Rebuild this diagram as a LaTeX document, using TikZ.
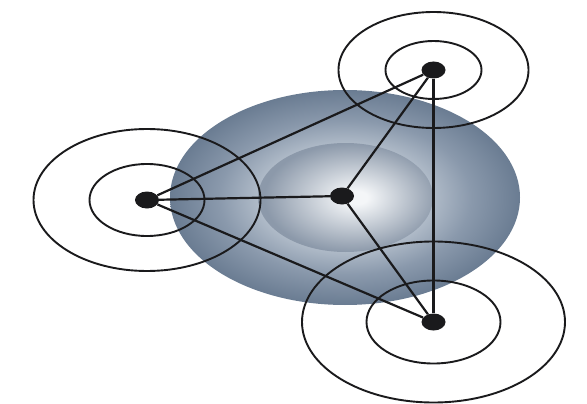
\documentclass[tikz,border=0pt]{standalone}
\usetikzlibrary{shapes.geometric}
\definecolor{bowledge}{RGB}{106,124,146}
\definecolor{bowlmid}{RGB}{138,153,172}
\definecolor{bowlrim}{RGB}{178,189,202}
\definecolor{cupedge}{RGB}{140,153,170}
\definecolor{cuphi}{RGB}{244,246,248}
\definecolor{inkdark}{RGB}{26,26,28}
\pgfdeclareradialshading{bowlshade}{\pgfpoint{0bp}{0bp}}{color(0bp)=(bowlrim); color(12bp)=(bowlrim); color(18bp)=(bowlmid); color(25bp)=(bowledge); color(50bp)=(bowledge)}
\pgfdeclareradialshading{cupshade}{\pgfpoint{3.5bp}{0bp}}{color(0bp)=(cuphi); color(3bp)=(cuphi); color(25bp)=(cupedge); color(50bp)=(cupedge)}

\begin{document}
\begin{tikzpicture}[x=1pt,y=-1pt,
  dotnode/.style={ellipse,fill=inkdark,inner sep=0pt,minimum width=24pt,minimum height=17pt},
  ringline/.style={draw=inkdark,line width=1.9pt},
  linkline/.style={draw=inkdark,line width=2.2pt}]
\useasboundingbox (0,0) rectangle (587,404);
% shaded bowl
\shade[shading=bowlshade] (345,197.5) ellipse [x radius=175pt, y radius=107.5pt];
\shade[shading=cupshade] (345.5,197.5) ellipse [x radius=87.5pt, y radius=54.5pt];
% stations
\node[dotnode] (hub) at (342,196) {};
\node[dotnode] (nodeL) at (147,200) {};
\node[dotnode] (nodeT) at (433.5,70) {};
\node[dotnode] (nodeB) at (433.5,322) {};
% rings round the stations
\foreach \n/\a/\b/\c/\d in {nodeT/48/29/95/58,nodeL/57.5/36/113.5/71,nodeB/67/41.5/131.5/80.5} {
  \draw[ringline] (\n) ellipse [x radius=\a pt, y radius=\b pt];
  \draw[ringline] (\n) ellipse [x radius=\c pt, y radius=\d pt];
}
% links
\foreach \p/\q in {nodeL/nodeT,nodeL/hub,nodeL/nodeB,hub/nodeT,hub/nodeB,nodeT/nodeB}
  \draw[linkline] (\p) -- (\q);
\end{tikzpicture}
\end{document}
